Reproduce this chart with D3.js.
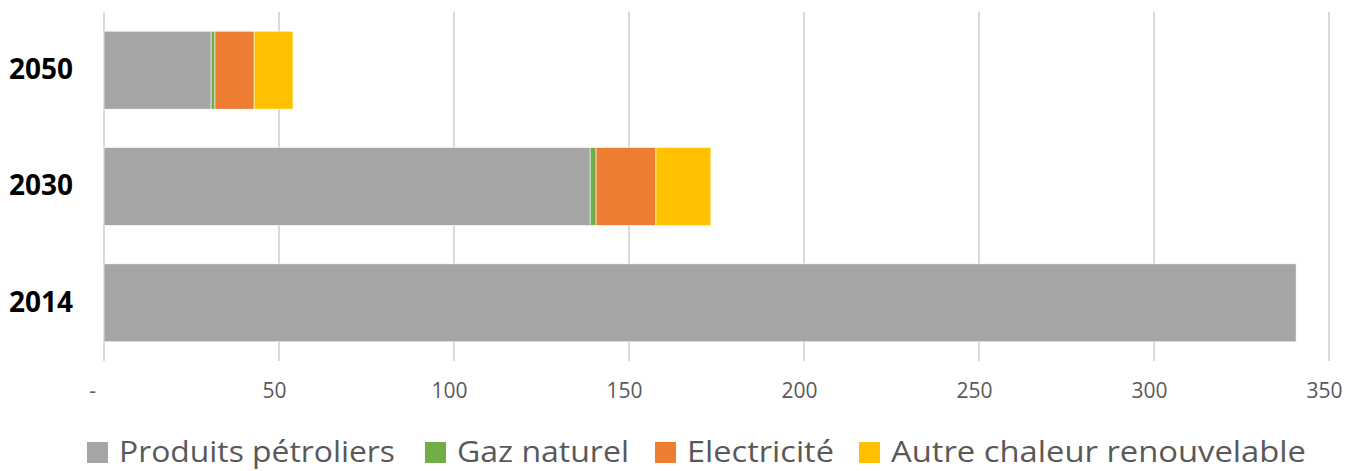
<!DOCTYPE html>
<html>
<head>
<meta charset="utf-8">
<script src="https://cdn.jsdelivr.net/npm/d3@7"></script>
<style>
  body { margin: 0; background: #fff; }
  svg { font-family: "Open Sans", sans-serif; }
</style>
</head>
<body>
<svg></svg>
<script>
// Data
const years = ["2050", "2030", "2014"];
const series = ["Produits pétroliers", "Gaz naturel", "Electricité", "Autre chaleur renouvelable"];
const colors = ["#a5a5a5", "#70ad47", "#ed7d31", "#ffc000"];
const petrole = [30.6, 138.9, 340.6];
const gaz = [1.1, 1.7, 0];
const elec = [11.2, 17.1, 0];
const autre = [11.1, 15.7, 0];
const xTicks = [0, 50, 100, 150, 200, 250, 300, 350];

const margin = { top: 12, right: 26, bottom: 110, left: 104 },
  width = 1355 - margin.left - margin.right,
  height = 471 - margin.top - margin.bottom;

const svg = d3
  .select("svg")
  .attr("width", 1355)
  .attr("height", 471);

const g = svg.append("g").attr("transform", `translate(${margin.left},${margin.top})`);

const rows = years.map((y, i) => ({
  year: y,
  "Produits pétroliers": petrole[i],
  "Gaz naturel": gaz[i],
  "Electricité": elec[i],
  "Autre chaleur renouvelable": autre[i]
}));

const stacked = d3.stack().keys(series)(rows);

const x = d3.scaleLinear().domain([0, 350]).range([0, width]);
const y = d3.scaleBand().domain(years).range([0, height]).paddingInner(0.33).paddingOuter(0.165);

// Gridlines
g.selectAll(".grid")
  .data(xTicks)
  .enter()
  .append("line")
  .attr("x1", (d) => x(d))
  .attr("x2", (d) => x(d))
  .attr("y1", 0)
  .attr("y2", height)
  .attr("stroke", "#d9d9d9")
  .attr("stroke-width", 2);

// Bars
g.selectAll(".layer")
  .data(stacked)
  .enter()
  .append("g")
  .attr("fill", (d, i) => colors[i])
  .selectAll("rect")
  .data((d) => d)
  .enter()
  .filter((d) => d[1] - d[0] > 0)
  .append("rect")
  .attr("x", (d) => x(d[0]))
  .attr("y", (d) => y(d.data.year))
  .attr("width", (d) => x(d[1]) - x(d[0]))
  .attr("height", y.bandwidth())
  .attr("stroke", "#fff")
  .attr("stroke-width", 0.6);

// X axis labels
const xAxis = g
  .append("g")
  .attr("transform", `translate(0,${height})`)
  .call(d3.axisBottom(x).tickValues(xTicks).tickSize(0).tickPadding(22)
    .tickFormat((d) => (d === 0 ? "-" : d)));
xAxis.select(".domain").remove();
xAxis.selectAll("text")
  .attr("fill", "#595959")
  .style("font-size", "21px")
  .style("font-family", "'Open Sans', sans-serif")
  .attr("dx", (d) => (d === 0 ? -12 : -5));

// Y axis labels
const yAxis = g
  .append("g")
  .call(d3.axisLeft(y).tickSize(0).tickPadding(31));
yAxis.select(".domain").remove();
yAxis.selectAll("text")
  .attr("fill", "#000")
  .style("font-size", "28px")
  .style("font-weight", "bold")
  .style("font-family", "'Open Sans', sans-serif");

// Legend
const legend = svg.append("g").attr("transform", "translate(0,462)");
const legendX = [87, 425, 655, 859];
const legendW = [276, 172, 147, 415];
series.forEach((s, i) => {
  const item = legend.append("g").attr("transform", `translate(${legendX[i]},0)`);
  item.append("rect")
    .attr("x", 0)
    .attr("y", -20)
    .attr("width", 21)
    .attr("height", 21)
    .attr("fill", colors[i]);
  item.append("text")
    .attr("x", 32)
    .attr("y", 0)
    .attr("fill", "#595959")
    .style("font-size", "30px")
    .attr("textLength", legendW[i])
    .attr("lengthAdjust", "spacingAndGlyphs")
    .text(s);
});
</script>
</body>
</html>
